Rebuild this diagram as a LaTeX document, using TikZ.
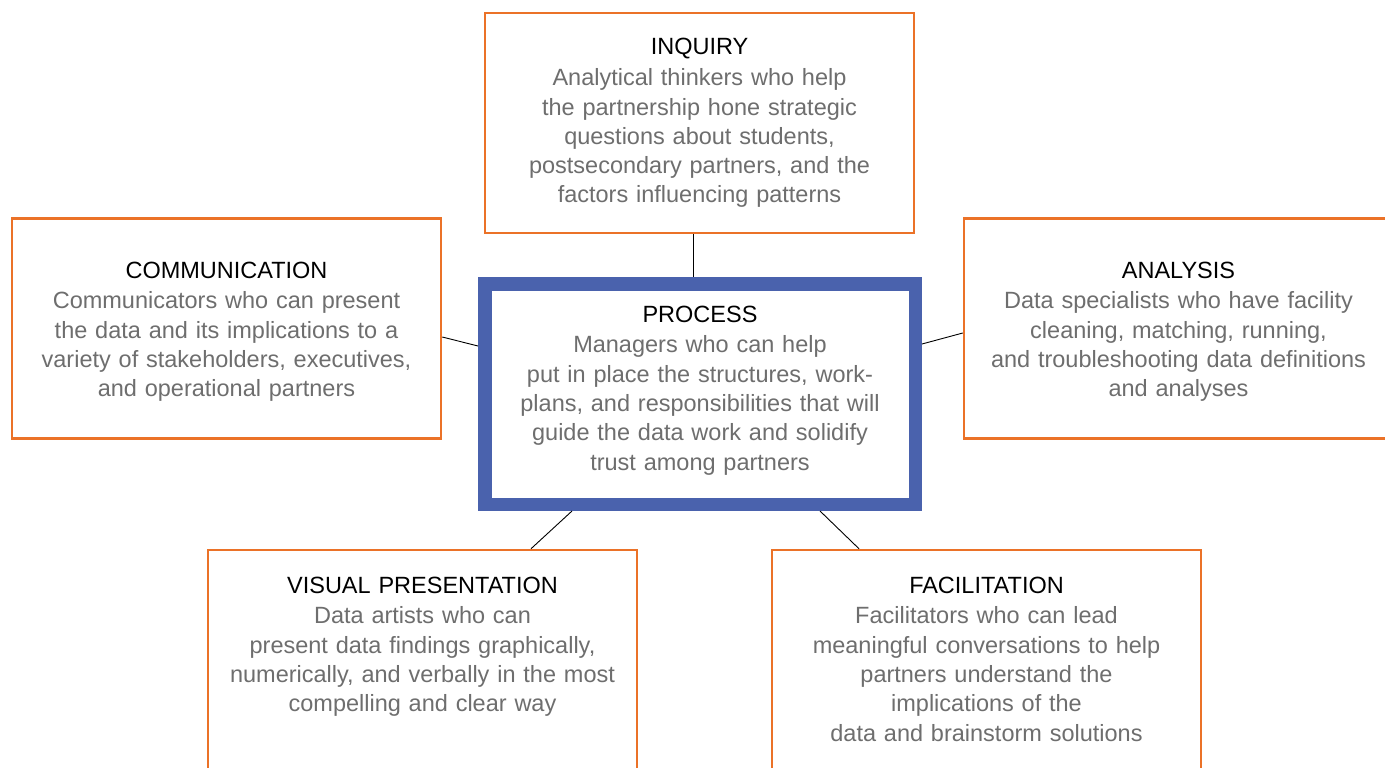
\documentclass[tikz,border=0pt]{standalone}
\usepackage{fontspec}
\setmainfont{Liberation Sans}
\usetikzlibrary{calc}

\definecolor{boxorange}{HTML}{EB7228}
\definecolor{coreblue}{HTML}{4A62AD}
\definecolor{bodygray}{HTML}{6E6E6E}

\tikzset{
  rolebox/.style={draw=boxorange, line width=2.5pt, fill=white,
    minimum width=429pt, minimum height=220pt, inner sep=0pt},
  corebox/.style={draw=coreblue, line width=13.5pt, fill=white,
    minimum width=430.5pt, minimum height=220.5pt, inner sep=0pt},
  roletext/.style={text width=425pt, align=center, inner sep=0pt, anchor=base,
    font=\fontsize{23.5}{29.3}\selectfont, text=bodygray},
  link/.style={draw=black, line width=0.9pt},
}
\newcommand{\roletitle}[1]{\textcolor{black}{#1}\\[1.5pt]}

\begin{document}
\begin{tikzpicture}[x=1pt, y=-1pt]
  \useasboundingbox (0,0) rectangle (1385,768);

  % boxes
  \node[rolebox] (inq) at (699.5,123) {};
  \node[rolebox] (com) at (226.5,328.5) {};
  \node[rolebox] (ana) at (1178.5,328.5) {};
  \node[corebox] (proc) at (700,394) {};
  \node[rolebox] (vis) at (422.5,660) {};
  \node[rolebox] (fac) at (986.5,660) {};

  % texts
  \node[roletext] (inqt) at ($(inq.center)+(0,-68)$) {\roletitle{INQUIRY}
    Analytical thinkers who help\\
    the partnership hone strategic\\
    questions about students,\\
    postsecondary partners, and the\\
    factors influencing patterns};
  \node[roletext] (comt) at ($(com.center)+(0,-50.5)$) {\roletitle{COMMUNICATION}
    Communicators who can present\\
    the data and its implications to a\\
    variety of stakeholders, executives,\\
    and operational partners};
  \node[roletext] (anat) at ($(ana.center)+(0,-50.5)$) {\roletitle{ANALYSIS}
    Data specialists who have facility\\
    cleaning, matching, running,\\
    and troubleshooting data definitions\\
    and analyses};
  \node[roletext] (proct) at ($(proc.center)+(0,-72)$) {\roletitle{PROCESS}
    Managers who can help\\
    put in place the structures, work-\\
    plans, and responsibilities that will\\
    guide the data work and solidify\\
    trust among partners};
  \node[roletext] (vist) at ($(vis.center)+(0,-67)$) {\roletitle{VISUAL PRESENTATION}
    Data artists who can\\
    present data findings graphically,\\
    numerically, and verbally in the most\\
    compelling and clear way};
  \node[roletext] (fact) at ($(fac.center)+(0,-67)$) {\roletitle{FACILITATION}
    Facilitators who can lead\\
    meaningful conversations to help\\
    partners understand the\\
    implications of the\\
    data and brainstorm solutions};

  % connectors
  \draw[link] ($(inq.south)+(-6.5,0)$) -- ($(proc.north)+(-7,0)$);
  \draw[link] ($(com.east)+(0,8.5)$) -- ($(proc.west)+(0,-48)$);
  \draw[link] ($(proc.east)+(0,-50)$) -- ($(ana.west)+(0,4.5)$);
  \draw[link] ($(proc.south)+(-128,0)$) -- ($(vis.north)+(108.5,0)$);
  \draw[link] ($(proc.south)+(120,0)$) -- ($(fac.north)+(-127.5,0)$);
\end{tikzpicture}
\end{document}
